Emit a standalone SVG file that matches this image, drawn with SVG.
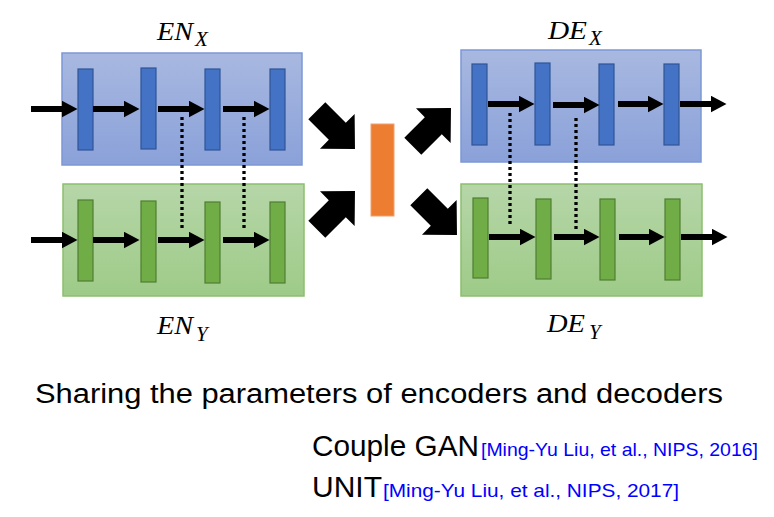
<svg xmlns="http://www.w3.org/2000/svg" width="774" height="517" viewBox="0 0 774 517">
<defs>
<linearGradient id="gb" x1="0" y1="0" x2="0" y2="1"><stop offset="0" stop-color="#a8b8e0"/><stop offset="1" stop-color="#8aa1d9"/></linearGradient>
<linearGradient id="gg" x1="0" y1="0" x2="0" y2="1"><stop offset="0" stop-color="#b6d6a8"/><stop offset="1" stop-color="#9ecb88"/></linearGradient>
<marker id="ah" markerUnits="userSpaceOnUse" markerWidth="16" markerHeight="17" viewBox="0 0 16 17" refX="0.5" refY="8.5" orient="auto"><path d="M0,0 L16,8.5 L0,17 Z" fill="#000"/></marker>
<path id="blk" d="M0,-12 L29,-12 L29,-24.5 L54,0 L29,24.5 L29,12 L0,12 Z"/>
</defs>
<style>
.bbox{fill:url(#gb);stroke:#7d98d6;stroke-width:1.5}
.gbox{fill:url(#gg);stroke:#8cbf6e;stroke-width:1.5}
.bbar{fill:#4472c4;stroke:#2f5597;stroke-width:1.2}
.gbar{fill:#70ad47;stroke:#507e32;stroke-width:1.2}
.arr{stroke:#000;stroke-width:6;marker-end:url(#ah)}
.dot{stroke:#000;stroke-width:3.3;stroke-dasharray:3 3;fill:none}
.m{font-family:"Liberation Serif",serif;font-style:italic;font-size:26px;fill:#000}
.ms{font-family:"Liberation Serif",serif;font-style:italic;font-size:21px;fill:#000}
.t{font-family:"Liberation Sans",Arial,sans-serif;fill:#000}
.c{font-family:"Liberation Sans",Arial,sans-serif;fill:#0000ff;font-size:19px}
</style>

<g id="enx">
<rect class="bbox" x="62" y="53" width="240" height="112"/>
<rect class="bbar" x="78" y="69" width="15" height="81"/>
<rect class="bbar" x="141" y="68" width="15" height="81"/>
<rect class="bbar" x="205" y="69" width="15" height="81"/>
<rect class="bbar" x="270" y="69" width="15" height="81"/>
<text class="m" x="157" y="40" textLength="36" lengthAdjust="spacingAndGlyphs">EN</text>
<text class="ms" x="195" y="46">X</text>
</g>
<g id="eny">
<rect class="gbox" x="63" y="184" width="241" height="112"/>
<rect class="gbar" x="78" y="200" width="15" height="81"/>
<rect class="gbar" x="141" y="201" width="15" height="81"/>
<rect class="gbar" x="205" y="202" width="15" height="81"/>
<rect class="gbar" x="270" y="202" width="15" height="81"/>
<text class="m" x="157" y="334" textLength="36" lengthAdjust="spacingAndGlyphs">EN</text>
<text class="ms" x="196" y="341">Y</text>
</g>
<g id="dex">
<rect class="bbox" x="461" y="50" width="240" height="112"/>
<rect class="bbar" x="472" y="64" width="15" height="81"/>
<rect class="bbar" x="535" y="63" width="15" height="82"/>
<rect class="bbar" x="599" y="64" width="15" height="81"/>
<rect class="bbar" x="664" y="64" width="15" height="81"/>
<text class="m" x="548" y="39" textLength="39" lengthAdjust="spacingAndGlyphs">DE</text>
<text class="ms" x="589" y="45">X</text>
</g>
<g id="dey">
<rect class="gbox" x="461" y="184" width="241" height="112"/>
<rect class="gbar" x="473" y="198" width="15" height="80"/>
<rect class="gbar" x="536" y="199" width="15" height="80"/>
<rect class="gbar" x="600" y="199" width="15" height="81"/>
<rect class="gbar" x="665" y="199" width="15" height="81"/>
<text class="m" x="547" y="332" textLength="38" lengthAdjust="spacingAndGlyphs">DE</text>
<text class="ms" x="589" y="339">Y</text>
</g>
<g id="latent">
<rect x="371" y="124" width="23" height="92" fill="#ed7d31" stroke="#f0a070" stroke-width="1"/>
</g>

<g id="connectors">
<line class="arr" x1="31" y1="109" x2="62" y2="109"/>
<line class="arr" x1="93" y1="109" x2="124" y2="109"/>
<line class="arr" x1="158" y1="109" x2="189" y2="109"/>
<line class="arr" x1="223" y1="109" x2="254" y2="109"/>
<line class="arr" x1="31" y1="240" x2="62" y2="240"/>
<line class="arr" x1="93" y1="240" x2="124" y2="240"/>
<line class="arr" x1="158" y1="240" x2="189" y2="240"/>
<line class="arr" x1="223" y1="240" x2="254" y2="240"/>
<line class="arr" x1="488" y1="104" x2="519" y2="104"/>
<line class="arr" x1="553" y1="105" x2="584" y2="105"/>
<line class="arr" x1="618" y1="104" x2="648" y2="104"/>
<line class="arr" x1="680" y1="104" x2="711" y2="104"/>
<line class="arr" x1="489" y1="237" x2="520" y2="237"/>
<line class="arr" x1="554" y1="237" x2="584" y2="237"/>
<line class="arr" x1="619" y1="237" x2="649" y2="237"/>
<line class="arr" x1="681" y1="237" x2="712" y2="237"/>
<line class="dot" x1="182" y1="117" x2="182" y2="230"/>
<line class="dot" x1="244" y1="117" x2="244" y2="230"/>
<line class="dot" x1="510" y1="113" x2="510" y2="227"/>
<line class="dot" x1="576" y1="118" x2="576" y2="230"/>
<use href="#blk" fill="#000" transform="translate(316.8,110.8) rotate(45)"/>
<use href="#blk" fill="#000" transform="translate(316.8,229.2) rotate(-45)"/>
<use href="#blk" fill="#000" transform="translate(412.8,146.2) rotate(-45)"/>
<use href="#blk" fill="#000" transform="translate(418.8,196.8) rotate(45)"/>
</g>

<g id="captions">
<text class="t" x="35" y="403" font-size="27" textLength="688" lengthAdjust="spacingAndGlyphs">Sharing the parameters of encoders and decoders</text>
<text class="t" x="312" y="456" font-size="30" textLength="167" lengthAdjust="spacingAndGlyphs">Couple GAN</text>
<text class="c" x="481" y="456" textLength="277" lengthAdjust="spacingAndGlyphs">[Ming-Yu Liu, et al., NIPS, 2016]</text>
<text class="t" x="312" y="497" font-size="30" textLength="70" lengthAdjust="spacingAndGlyphs">UNIT</text>
<text class="c" x="383" y="497" textLength="296" lengthAdjust="spacingAndGlyphs">[Ming-Yu Liu, et al., NIPS, 2017]</text>
</g>
</svg>
